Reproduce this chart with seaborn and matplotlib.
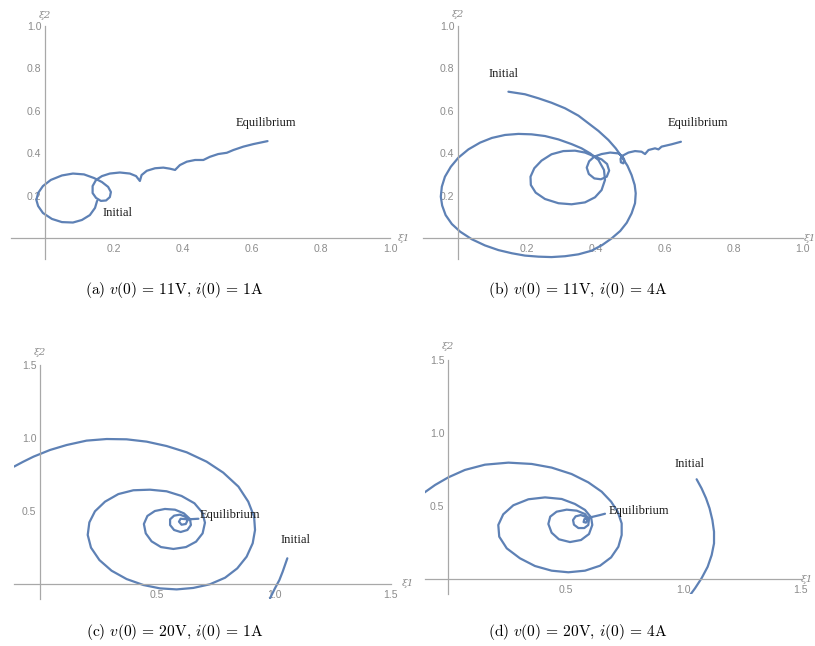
import numpy as np
import pandas as pd
import matplotlib
matplotlib.use("Agg")
import matplotlib.pyplot as plt
import seaborn as sns
from matplotlib.ticker import FixedLocator

sns.set_theme(style="white")
plt.rcParams['font.family'] = ['Liberation Sans', 'DejaVu Sans']
plt.rcParams['mathtext.fontset'] = 'cm'

# ---------------- data ----------------
# panel (a): v(0)=11V, i(0)=1A
a_xi1 = [0.151, 0.145, 0.130, 0.107, 0.081, 0.049, 0.020, -0.006, -0.020, -0.025,
         -0.020, -0.006, 0.017, 0.049, 0.081, 0.113, 0.142, 0.165, 0.183, 0.191,
         0.188, 0.177, 0.162, 0.148, 0.138, 0.138, 0.148, 0.165, 0.188, 0.217,
         0.246, 0.264, 0.275, 0.280, 0.295, 0.319, 0.343, 0.362, 0.377, 0.391,
         0.411, 0.435, 0.459, 0.478, 0.502, 0.527, 0.546, 0.575, 0.604, 0.645]
a_xi2 = [0.175, 0.142, 0.108, 0.085, 0.073, 0.075, 0.090, 0.118, 0.151, 0.179,
         0.212, 0.245, 0.274, 0.295, 0.304, 0.300, 0.283, 0.264, 0.241, 0.217,
         0.193, 0.177, 0.175, 0.189, 0.212, 0.245, 0.274, 0.292, 0.304, 0.309,
         0.304, 0.292, 0.269, 0.297, 0.317, 0.329, 0.332, 0.327, 0.321, 0.344,
         0.360, 0.368, 0.368, 0.383, 0.396, 0.402, 0.415, 0.431, 0.443, 0.457]

# panel (b): v(0)=11V, i(0)=4A
b_xi1 = [0.147, 0.195, 0.234, 0.272, 0.311, 0.350, 0.379, 0.408, 0.437, 0.458,
         0.475, 0.492, 0.504, 0.513, 0.516, 0.514, 0.504, 0.490, 0.471, 0.446,
         0.419, 0.388, 0.350, 0.311, 0.272, 0.234, 0.195, 0.157, 0.118, 0.079,
         0.041, 0.007, -0.017, -0.035, -0.045, -0.049, -0.046, -0.037, -0.020, 0.002,
         0.031, 0.065, 0.099, 0.137, 0.176, 0.214, 0.253, 0.292, 0.330, 0.359,
         0.384, 0.408, 0.424, 0.427, 0.417, 0.398, 0.369, 0.330, 0.292, 0.253,
         0.226, 0.212, 0.211, 0.222, 0.243, 0.272, 0.306, 0.340, 0.369, 0.393,
         0.417, 0.433, 0.439, 0.432, 0.415, 0.396, 0.380, 0.374, 0.381, 0.396,
         0.417, 0.442, 0.466, 0.477, 0.483, 0.480, 0.473, 0.472, 0.480, 0.495,
         0.514, 0.533, 0.543, 0.553, 0.572, 0.582, 0.591, 0.620, 0.647]
b_xi2 = [0.690, 0.678, 0.659, 0.638, 0.612, 0.577, 0.541, 0.505, 0.462, 0.423,
         0.384, 0.341, 0.297, 0.250, 0.211, 0.164, 0.116, 0.072, 0.033, -0.002,
         -0.033, -0.060, -0.077, -0.086, -0.090, -0.088, -0.083, -0.072, -0.057, -0.035,
         -0.006, 0.030, 0.066, 0.108, 0.153, 0.195, 0.242, 0.289, 0.336, 0.379,
         0.418, 0.450, 0.472, 0.486, 0.491, 0.489, 0.481, 0.465, 0.443, 0.423,
         0.399, 0.368, 0.321, 0.274, 0.226, 0.192, 0.168, 0.159, 0.164, 0.184,
         0.214, 0.250, 0.289, 0.329, 0.365, 0.395, 0.410, 0.412, 0.403, 0.387,
         0.371, 0.349, 0.318, 0.289, 0.277, 0.281, 0.302, 0.332, 0.362, 0.384,
         0.396, 0.403, 0.399, 0.387, 0.368, 0.352, 0.357, 0.374, 0.390, 0.403,
         0.410, 0.407, 0.396, 0.415, 0.423, 0.418, 0.431, 0.442, 0.454]

# panel (c): v(0)=20V, i(0)=1A  (initial stroke, then the visible spiral)
c_init_xi1 = [1.057, 1.047, 1.037, 1.023, 1.004, 0.983]
c_init_xi2 = [0.176, 0.130, 0.084, 0.027, -0.030, -0.098]
c_xi1 = [-0.111, -0.071, -0.028, 0.043, 0.114, 0.199, 0.285, 0.370, 0.456, 0.541,
         0.627, 0.712, 0.783, 0.848, 0.890, 0.915, 0.919, 0.909, 0.883, 0.843,
         0.791, 0.726, 0.655, 0.584, 0.513, 0.442, 0.370, 0.306, 0.254, 0.218,
         0.204, 0.211, 0.235, 0.278, 0.335, 0.399, 0.470, 0.541, 0.605, 0.660,
         0.694, 0.705, 0.695, 0.667, 0.624, 0.570, 0.517, 0.477, 0.452, 0.444,
         0.459, 0.491, 0.534, 0.577, 0.615, 0.641, 0.645, 0.630, 0.601, 0.573,
         0.556, 0.556, 0.573, 0.598, 0.621, 0.630, 0.623, 0.605, 0.594, 0.601,
         0.615, 0.634, 0.655, 0.677]
c_xi2 = [0.804, 0.838, 0.872, 0.918, 0.952, 0.982, 0.993, 0.991, 0.975, 0.945,
         0.902, 0.838, 0.763, 0.667, 0.564, 0.461, 0.370, 0.279, 0.187, 0.107,
         0.043, -0.002, -0.027, -0.037, -0.030, -0.007, 0.034, 0.091, 0.164, 0.249,
         0.336, 0.422, 0.498, 0.564, 0.616, 0.642, 0.646, 0.635, 0.603, 0.553,
         0.489, 0.420, 0.347, 0.290, 0.253, 0.240, 0.253, 0.292, 0.347, 0.411,
         0.466, 0.500, 0.514, 0.509, 0.484, 0.445, 0.404, 0.370, 0.356, 0.370,
         0.404, 0.443, 0.468, 0.475, 0.461, 0.434, 0.411, 0.406, 0.427, 0.447,
         0.445, 0.443, 0.445, 0.447]

# panel (d): v(0)=20V, i(0)=4A
d_init_xi1 = [1.058, 1.079, 1.098, 1.113, 1.125, 1.132, 1.132, 1.122, 1.105, 1.079, 1.051, 1.030]
d_init_xi2 = [0.683, 0.621, 0.553, 0.484, 0.404, 0.324, 0.244, 0.164, 0.084, 0.005, -0.064, -0.110]
d_xi1 = [-0.105, -0.055, 0.001, 0.072, 0.157, 0.257, 0.356, 0.441, 0.526, 0.597,
         0.654, 0.694, 0.722, 0.739, 0.739, 0.725, 0.694, 0.647, 0.583, 0.512,
         0.441, 0.370, 0.306, 0.250, 0.218, 0.214, 0.235, 0.278, 0.342, 0.413,
         0.484, 0.540, 0.583, 0.609, 0.614, 0.600, 0.566, 0.519, 0.472, 0.441,
         0.427, 0.435, 0.462, 0.505, 0.548, 0.583, 0.600, 0.597, 0.580, 0.555,
         0.536, 0.532, 0.543, 0.565, 0.584, 0.593, 0.587, 0.577, 0.580, 0.594,
         0.618, 0.647, 0.668]
d_xi2 = [0.587, 0.644, 0.696, 0.747, 0.783, 0.797, 0.788, 0.763, 0.719, 0.662,
         0.598, 0.530, 0.461, 0.381, 0.301, 0.221, 0.148, 0.091, 0.057, 0.046,
         0.057, 0.089, 0.142, 0.210, 0.290, 0.370, 0.443, 0.505, 0.546, 0.559,
         0.548, 0.514, 0.473, 0.422, 0.370, 0.308, 0.267, 0.253, 0.272, 0.317,
         0.377, 0.427, 0.461, 0.475, 0.468, 0.445, 0.409, 0.370, 0.349, 0.349,
         0.372, 0.404, 0.429, 0.438, 0.427, 0.404, 0.386, 0.390, 0.409, 0.418,
         0.427, 0.438, 0.447]

captions = [r"$\mathrm{(a)}\ v(0)\,=\,11\mathrm{V},\,i(0)\,=\,1\mathrm{A}$",
            r"$\mathrm{(b)}\ v(0)\,=\,11\mathrm{V},\,i(0)\,=\,4\mathrm{A}$",
            r"$\mathrm{(c)}\ v(0)\,=\,20\mathrm{V},\,i(0)\,=\,1\mathrm{A}$",
            r"$\mathrm{(d)}\ v(0)\,=\,20\mathrm{V},\,i(0)\,=\,4\mathrm{A}$"]

ticks_small = [0.2, 0.4, 0.6, 0.8, 1.0]
ticks_large = [0.5, 1.0, 1.5]

# ---------------- styling ----------------
LINE = '#5e81b5'
AXC = '#a8a8a8'
TXC = '#8c8c8c'
W, H = 815, 646

fig = plt.figure(figsize=(W / 100, H / 100), dpi=100)
fig.patch.set_facecolor('white')


def make_axes(left_px, right_px, top_px, bottom_px):
    return fig.add_axes([left_px / W, 1 - bottom_px / H,
                         (right_px - left_px) / W, (bottom_px - top_px) / H])


def style(ax, xlim, ylim, major, minor):
    ax.set_xlim(*xlim)
    ax.set_ylim(*ylim)
    ax.patch.set_alpha(0)
    for s in ['top', 'right']:
        ax.spines[s].set_visible(False)
    for s in ['left', 'bottom']:
        ax.spines[s].set_position(('data', 0))
        ax.spines[s].set_color(AXC)
        ax.spines[s].set_linewidth(0.9)
    for axis in (ax.xaxis, ax.yaxis):
        axis.set_major_locator(FixedLocator(major))
        axis.set_minor_locator(FixedLocator(minor))
    ax.set_xticklabels([f"{v:.1f}" for v in major])
    ax.set_yticklabels([f"{v:.1f}" for v in major])
    ax.tick_params(which='both', direction='in', color=AXC, labelcolor=TXC,
                   labelsize=7.6, width=0.7)
    ax.tick_params(which='major', length=4)
    ax.tick_params(which='minor', length=2.3)
    ax.tick_params(axis='x', pad=4)
    ax.tick_params(axis='y', pad=2.5)
    ax.set_xlabel('')
    ax.set_ylabel('')


def draw(ax, segments):
    rows = []
    for k, (xs, ys) in enumerate(segments):
        for i, (x, y) in enumerate(zip(xs, ys)):
            rows.append({'xi1': x, 'xi2': y, 'seg': k, 'order': i})
    df = pd.DataFrame(rows)
    sns.lineplot(data=df, x='xi1', y='xi2', units='seg', estimator=None,
                 sort=False, color=LINE, lw=1.6, ax=ax, legend=False)


small_minor = [v for v in np.round(np.arange(-0.05, 1.0, 0.05), 2)
               if v != 0 and v not in ticks_small]
large_minor = [v for v in np.round(np.arange(-0.1, 1.5, 0.1), 2)
               if v != 0 and v not in ticks_large]

ax_a = make_axes(10.5, 390, 26, 259.2)
ax_b = make_axes(423.2, 802.7, 26, 259.2)
ax_c = make_axes(14.0, 391, 365, 598.6)
ax_d = make_axes(424.5, 800.5, 360, 593.6)

draw(ax_a, [(a_xi1, a_xi2)])
draw(ax_b, [(b_xi1, b_xi2)])
draw(ax_c, [(c_init_xi1, c_init_xi2), (c_xi1, c_xi2)])
draw(ax_d, [(d_init_xi1, d_init_xi2), (d_xi1, d_xi2)])

style(ax_a, (-0.1, 1.0), (-0.1, 1.0), ticks_small, small_minor)
style(ax_b, (-0.1, 1.0), (-0.1, 1.0), ticks_small, small_minor)
style(ax_c, (-0.111, 1.5), (-0.1, 1.5), ticks_large, large_minor)
style(ax_d, (-0.1, 1.5), (-0.1, 1.5), ticks_large, large_minor)

# axis names
lab = dict(color=TXC, fontsize=7.5, fontstyle='italic', clip_on=False,
           family=['DejaVu Serif'])
for ax, y2, x1 in [(ax_a, 1.05, 1.022), (ax_b, 1.055, 1.002),
                   (ax_c, 1.585, 1.547), (ax_d, 1.59, 1.502)]:
    ax.text(0.0, y2, "ξ2", ha='center', va='center', **lab)
    ax.text(x1, 0.0, "ξ1", ha='left', va='center', **lab)

# point labels
ann = dict(fontsize=9, color='#1a1a1a', family=['Liberation Serif'],
           ha='center', va='center')
ax_a.text(0.641, 0.541, "Equilibrium", **ann)
ax_a.text(0.210, 0.119, "Initial", **ann)
ax_b.text(0.695, 0.541, "Equilibrium", **ann)
ax_b.text(0.132, 0.774, "Initial", **ann)
ax_c.text(0.811, 0.473, "Equilibrium", **ann)
ax_c.text(1.090, 0.301, "Initial", **ann)
ax_d.text(0.811, 0.466, "Equilibrium", **ann)
ax_d.text(1.028, 0.785, "Initial", **ann)

# captions
for (cx, cy), txt in zip([(174, 290), (578, 290), (175, 632), (578, 632)], captions):
    fig.text(cx / W, 1 - cy / H, txt, ha='center', va='center', fontsize=11.2,
             color='black')

fig.savefig("out.png", dpi=100, facecolor='white')
